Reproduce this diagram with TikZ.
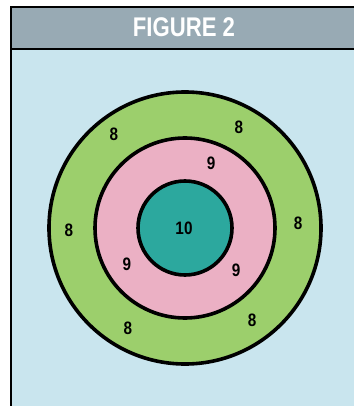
\documentclass[tikz,border=0pt]{standalone}
\usepackage{fontspec}
\setmainfont{Liberation Sans}
\usepackage{xcolor}
\usepackage{tikz}
\usetikzlibrary{positioning}
\definecolor{skyblue}{HTML}{C9E5EE}
\definecolor{headgray}{HTML}{98AAB4}
\definecolor{ringgreen}{HTML}{9CCF6C}
\definecolor{ringpink}{HTML}{EBB0C4}
\definecolor{bullteal}{HTML}{2CA89E}
\tikzset{
  ring/.style={draw=black, line width=3.6pt},
  score/.style={font=\bfseries\fontsize{18}{18}\selectfont, xscale=0.85, transform shape, inner sep=0pt},
  headtext/.style={font=\bfseries\fontsize{27}{27}\selectfont, text=white, xscale=0.82, transform shape, inner sep=0pt}
}

\begin{document}
\begin{tikzpicture}[x=1pt, y=-1pt]
\useasboundingbox (0,0) rectangle (354,406);
% panel and header
\fill[skyblue] (11,49) rectangle (354,406);
\fill[headgray] (11,7) rectangle (354,49);
\draw[line width=1.1pt] (354,7) -- (11,7) -- (11,406);
\draw[line width=1.1pt] (11,49) -- (354,49);
\node[headtext] (title) at (184,27) {FIGURE 2};
% target
\coordinate (c) at (185,228);
\filldraw[ring, fill=ringgreen] (c) circle[radius=136];
\filldraw[ring, fill=ringpink] (c) circle[radius=90];
\filldraw[ring, fill=bullteal] (c) circle[radius=47];
% scores
\node[score] (s10) at (184,228) {10};
\node[score] (n1) at (211,163) {9};
\node[score] (n2) at (127,264) {9};
\node[score] (n3) at (236,270) {9};
\node[score] (e1) at (114,134) {8};
\node[score] (e2) at (239,127) {8};
\node[score] (e3) at (69,230) {8};
\node[score] (e4) at (298,223) {8};
\node[score] (e5) at (128,328) {8};
\node[score] (e6) at (252,320) {8};
\end{tikzpicture}
\end{document}
